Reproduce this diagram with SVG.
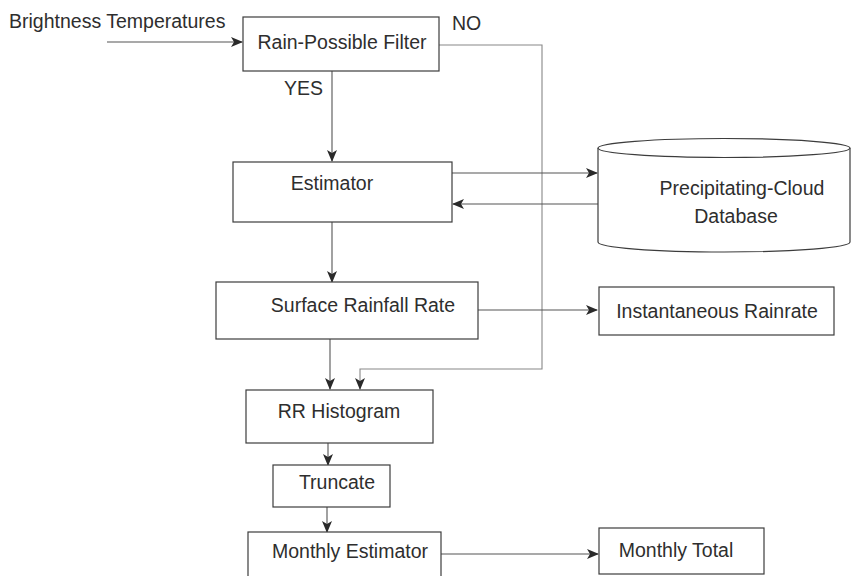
<svg xmlns="http://www.w3.org/2000/svg" width="852" height="576" viewBox="0 0 852 576">
<style>
.box{fill:#fff;stroke:#3c3c3c;stroke-width:1.2}
.t{font-family:"Liberation Sans",Arial,sans-serif;font-size:19.5px;fill:#2e2e2e}
.c{fill:none;stroke:#555;stroke-width:1.1}
.c2{fill:none;stroke:#888;stroke-width:1.1}
</style>
<defs>
<marker id="ah" viewBox="0 0 12 10" refX="11" refY="5" markerWidth="12" markerHeight="10" markerUnits="userSpaceOnUse" orient="auto">
<path d="M0,0 L12,5 L0,10 L3,5 Z" fill="#2a2a2a"/>
</marker>
</defs>
<rect width="852" height="576" fill="#fff"/>
<g id="connectors">
<line class="c" x1="107" y1="42" x2="242" y2="42" marker-end="url(#ah)"/>
<line class="c" x1="332" y1="71" x2="332" y2="161" marker-end="url(#ah)"/>
<polyline class="c2" points="439,45 542,45 542,369 360,369 360,389" marker-end="url(#ah)"/>
<line class="c" x1="452" y1="173" x2="597" y2="173" marker-end="url(#ah)"/>
<line class="c" x1="598" y1="204" x2="453" y2="204" marker-end="url(#ah)"/>
<line class="c" x1="332" y1="222" x2="332" y2="282" marker-end="url(#ah)"/>
<line class="c" x1="478" y1="310" x2="597" y2="310" marker-end="url(#ah)"/>
<line class="c" x1="330" y1="339" x2="330" y2="389" marker-end="url(#ah)"/>
<line class="c" x1="328" y1="443" x2="328" y2="465" marker-end="url(#ah)"/>
<line class="c" x1="327" y1="507" x2="327" y2="532" marker-end="url(#ah)"/>
<line class="c" x1="441" y1="554" x2="598" y2="554" marker-end="url(#ah)"/>
</g>
<g id="input-label">
<text class="t" x="9" y="28">Brightness Temperatures</text>
</g>
<g id="filter">
<rect class="box" x="243" y="17" width="196" height="54"/>
<text class="t" x="342" y="49" text-anchor="middle">Rain-Possible Filter</text>
<text class="t" x="452" y="30">NO</text>
<text class="t" x="323" y="95" text-anchor="end">YES</text>
</g>
<g id="estimator">
<rect class="box" x="233" y="162" width="219" height="60"/>
<text class="t" x="332" y="190" text-anchor="middle">Estimator</text>
</g>
<g id="database">
<path class="box" d="M598,148 L598,242 A126,10 0 0 0 850,242 L850,148"/>
<ellipse class="box" cx="724" cy="148" rx="126" ry="9.5"/>
<text class="t" x="742" y="195" text-anchor="middle">Precipitating-Cloud</text>
<text class="t" x="736" y="223" text-anchor="middle">Database</text>
</g>
<g id="surface">
<rect class="box" x="216" y="282" width="262" height="57"/>
<text class="t" x="363" y="312" text-anchor="middle">Surface Rainfall Rate</text>
</g>
<g id="instantaneous">
<rect class="box" x="599" y="287" width="235" height="48"/>
<text class="t" x="717" y="318" text-anchor="middle">Instantaneous Rainrate</text>
</g>
<g id="histogram">
<rect class="box" x="246" y="390" width="187" height="53"/>
<text class="t" x="339" y="418" text-anchor="middle">RR Histogram</text>
</g>
<g id="truncate">
<rect class="box" x="273" y="465" width="117" height="42"/>
<text class="t" x="337" y="489" text-anchor="middle">Truncate</text>
</g>
<g id="monthly-estimator">
<rect class="box" x="248" y="532" width="193" height="60"/>
<text class="t" x="350" y="558" text-anchor="middle">Monthly Estimator</text>
</g>
<g id="monthly-total">
<rect class="box" x="599" y="528" width="165" height="46"/>
<text class="t" x="676" y="557" text-anchor="middle">Monthly Total</text>
</g>
</svg>
